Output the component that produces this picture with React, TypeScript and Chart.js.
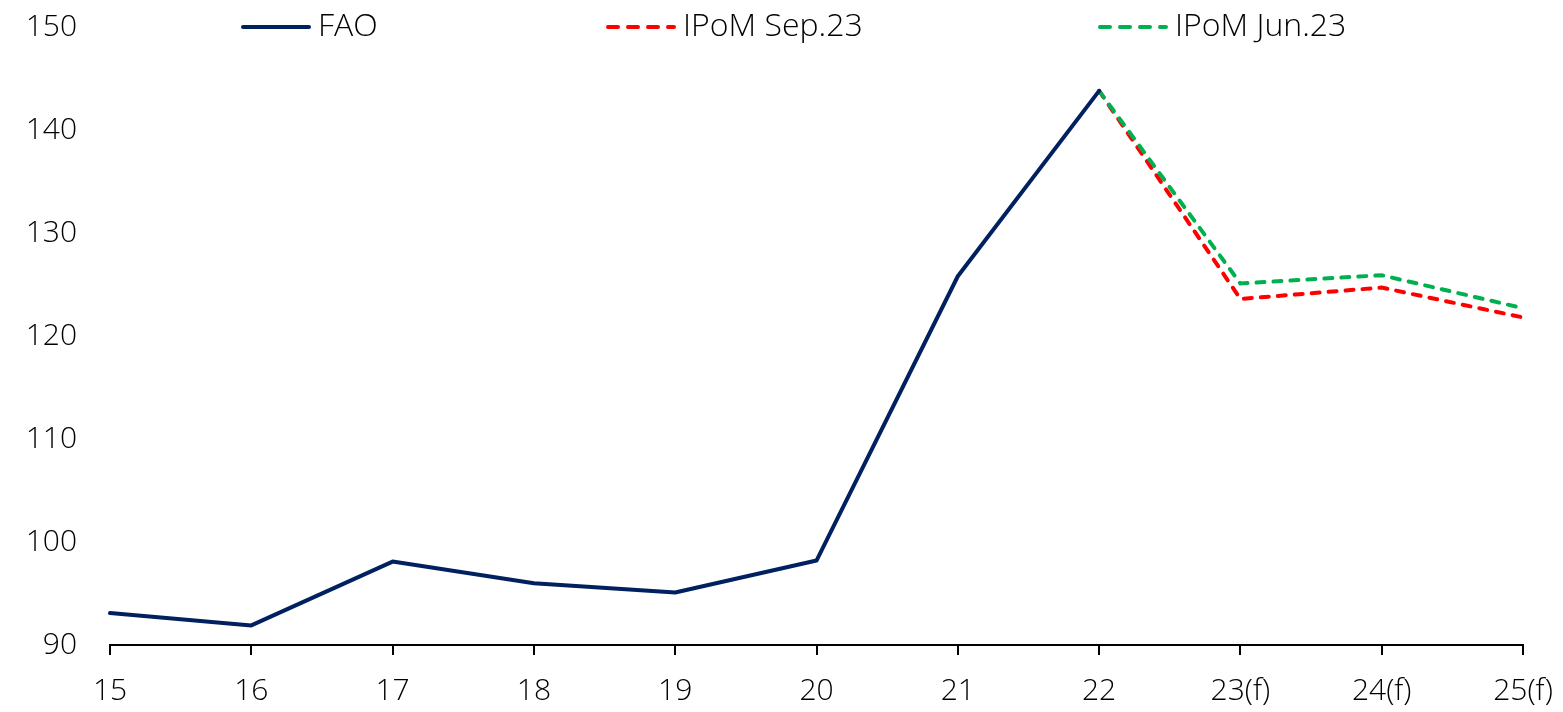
import React, { useEffect, useRef } from "react";
import { Chart, registerables } from "chart.js";

Chart.register(...registerables);

const categories = ["15", "16", "17", "18", "19", "20", "21", "22", "23(f)", "24(f)", "25(f)"];
const faoValues = [93.1, 91.9, 98.1, 96.0, 95.1, 98.2, 125.8, 143.8, null, null, null];
const sepValues = [null, null, null, null, null, null, null, 143.8, 123.6, 124.7, 121.8];
const junValues = [null, null, null, null, null, null, null, 143.8, 125.1, 125.9, 122.7];
const yTicks = [90, 100, 110, 120, 130, 140, 150];

const FONT = "'Open Sans', 'Noto Sans', sans-serif";
const FONT_SIZE = 30;
const FONT_WEIGHT = 300;
const NAVY = "#002060";
const RED = "#FF0000";
const GREEN = "#00B050";

const legendItems = [
  { label: "FAO", color: NAVY, dash: [] as number[], x: 243 },
  { label: "IPoM Sep.23", color: RED, dash: [10, 10], x: 608 },
  { label: "IPoM Jun.23", color: GREEN, dash: [10, 10], x: 1100 },
];

const legendPlugin = {
  id: "customLegend",
  afterDraw(chart: any) {
    const ctx = chart.ctx;
    ctx.save();
    const y = 27;
    for (const it of legendItems) {
      ctx.beginPath();
      ctx.setLineDash(it.dash);
      ctx.lineWidth = 4;
      ctx.lineCap = "round";
      ctx.strokeStyle = it.color;
      ctx.moveTo(it.x, y);
      ctx.lineTo(it.x + 66, y);
      ctx.stroke();
      ctx.setLineDash([]);
      ctx.fillStyle = "#000";
      ctx.font = `${FONT_WEIGHT} 32px ${FONT}`;
      ctx.textBaseline = "middle";
      ctx.textAlign = "left";
      ctx.fillText(it.label, it.x + 75, y);
    }
    ctx.restore();
  },
};

export default function App() {
  const ref = useRef<HTMLCanvasElement | null>(null);
  useEffect(() => {
    if (!ref.current) return;
    const chart = new Chart(ref.current, {
      type: "line",
      data: {
        labels: categories,
        datasets: [
          { label: "FAO", data: faoValues, borderColor: NAVY, borderWidth: 4, pointRadius: 0, tension: 0, order: 0, borderCapStyle: "round", borderJoinStyle: "round" },
          { label: "IPoM Jun.23", data: junValues, borderColor: GREEN, borderWidth: 4, borderDash: [8, 9], borderCapStyle: "round", pointRadius: 0, tension: 0, order: 1 },
          { label: "IPoM Sep.23", data: sepValues, borderColor: RED, borderWidth: 4, borderDash: [8, 9], borderCapStyle: "round", pointRadius: 0, tension: 0, order: 2 },
        ] as any,
      },
      options: {
        animation: false,
        responsive: true,
        maintainAspectRatio: false,
        layout: { padding: { top: 27, right: 40, left: 0, bottom: 0 } },
        plugins: { legend: { display: false }, tooltip: { enabled: false } },
        scales: {
          x: {
            offset: false,
            grid: { drawOnChartArea: false, drawTicks: true, tickLength: 10, color: "#000", lineWidth: 2 },
            border: { display: true, color: "#000", width: 2 },
            ticks: { color: "#000", font: { family: FONT, size: FONT_SIZE, weight: FONT_WEIGHT }, padding: 18, maxRotation: 0, autoSkip: false },
            afterFit: (s: any) => { s.height = 67; s.paddingLeft = 0; s.paddingRight = 0; },
          },
          y: {
            min: 90,
            max: 150,
            afterBuildTicks: (s: any) => { s.ticks = yTicks.map((v) => ({ value: v })); },
            grid: { display: false, drawTicks: false },
            border: { display: false },
            ticks: { color: "#000", font: { family: FONT, size: FONT_SIZE, weight: FONT_WEIGHT }, padding: 33 },
            afterFit: (s: any) => { s.width = 110; s.paddingTop = 0; s.paddingBottom = 0; },
          },
        },
      } as any,
      plugins: [legendPlugin],
    });
    return () => chart.destroy();
  }, []);
  return (
    <div style={{ position: "absolute", left: 0, top: 0, width: 1563, height: 712 }}>
      <canvas ref={ref} />
    </div>
  );
}
